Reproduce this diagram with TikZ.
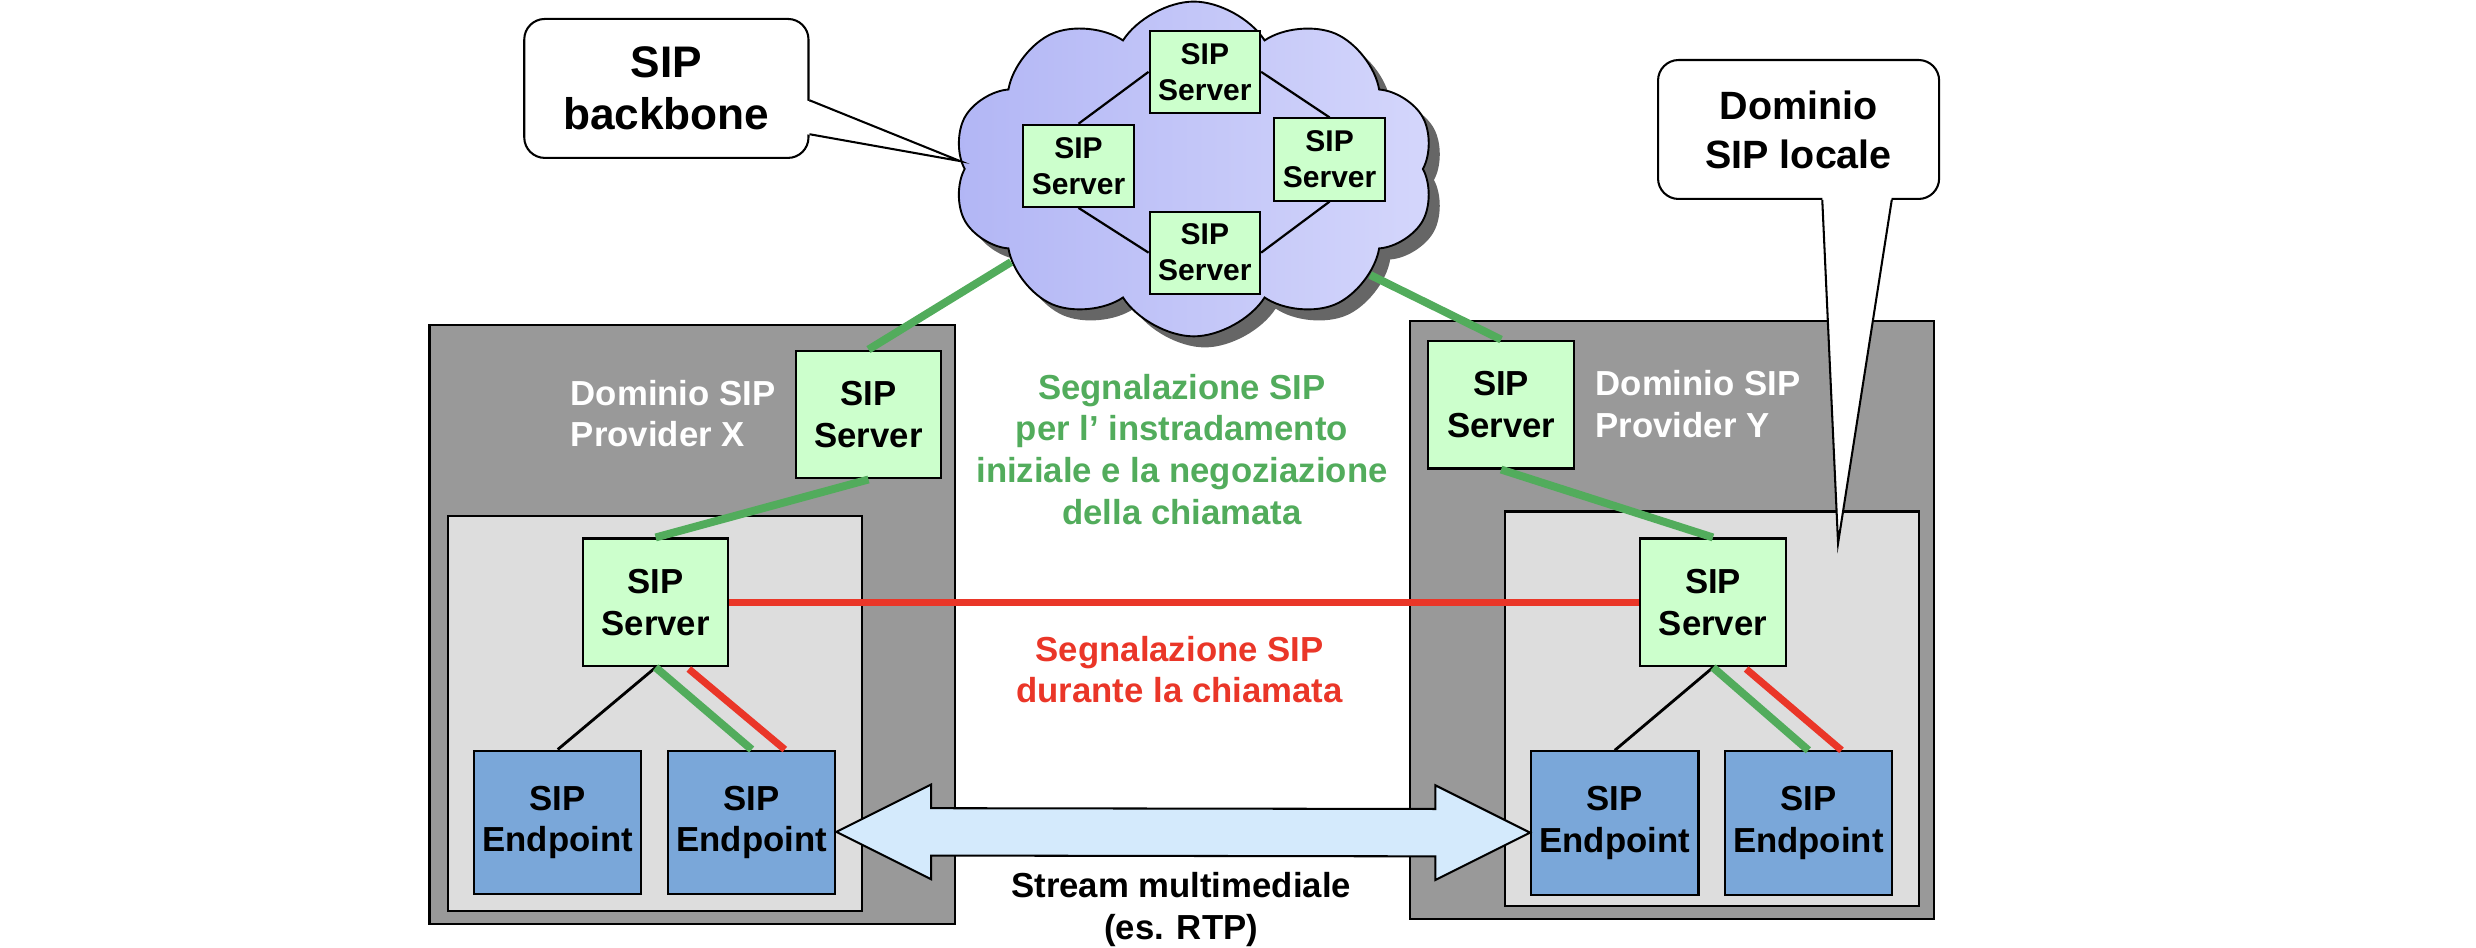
\documentclass[tikz,border=0pt]{standalone}
\usepackage{fontspec}
\setmainfont{Liberation Sans}
\usetikzlibrary{shapes.symbols,shadows,calc}
\definecolor{domgray}{RGB}{153,153,153}
\definecolor{locgray}{RGB}{221,221,221}
\definecolor{srvgreen}{RGB}{204,255,204}
\definecolor{epblue}{RGB}{122,167,217}
\definecolor{siggreen}{RGB}{82,172,92}
\definecolor{sigred}{RGB}{234,54,40}
\definecolor{streamblue}{RGB}{212,234,252}
\definecolor{cloudA}{RGB}{178,182,245}
\definecolor{cloudB}{RGB}{212,214,251}
\begin{document}
\begin{tikzpicture}[
  x=1pt,y=-1pt,
  txt/.style={font=\fontsize{22}{26.4}\selectfont\bfseries,align=center},
  provbox/.style={draw=black,line width=1.3pt,fill=domgray,inner sep=0pt},
  localbox/.style={draw=black,line width=1.3pt,fill=locgray,inner sep=0pt},
  server/.style={txt,draw=black,line width=1.3pt,fill=srvgreen,inner sep=0pt,
    minimum width=92pt,minimum height=81pt},
  cserver/.style={server,font=\fontsize{19}{22.8}\selectfont\bfseries,
    minimum width=70pt,minimum height=52pt},
  endpoint/.style={txt,draw=black,line width=1.3pt,fill=epblue,inner sep=0pt,
    minimum width=106pt,minimum height=91pt},
  bubble/.style={draw=black,line width=1.3pt,fill=white,rounded corners=13pt,
    inner sep=0pt,align=center},
  backbonecloud/.style={shape=cloud,cloud puffs=10,cloud puff arc=115,draw=black,
    line width=1.2pt,left color=cloudA,right color=cloudB,
    drop shadow={shadow xshift=7pt,shadow yshift=-7pt,fill=black,opacity=0.6}},
  link/.style={draw=black,line width=1.8pt},
  sigInit/.style={draw=siggreen,line width=5pt},
  sigCall/.style={draw=sigred,line width=4.5pt},
  stream/.style={draw=black,line width=1.3pt,fill=streamblue}]
  \useasboundingbox (0,0) rectangle (1568,600);

  % domini dei provider
  \node[provbox,minimum width=333pt,minimum height=379pt] (provX) at (438.5,395.5) {};
  \node[localbox,minimum width=262pt,minimum height=250pt] (localX) at (414.6,451.8) {};
  \node[provbox,minimum width=332pt,minimum height=379pt] (provY) at (1059,392.5) {};
  \node[localbox,minimum width=262pt,minimum height=250pt] (localY) at (1084.2,448.9) {};
  \node[txt,text=white,align=left,anchor=west] (labX) at (358,262) {Dominio SIP\\Provider X};
  \node[txt,text=white,align=left,anchor=west] (labY) at (1007,256) {Dominio SIP\\Provider Y};

  % backbone
  \node[backbonecloud,minimum width=305pt,minimum height=212pt] (backbone) at (756,107) {};
  \node[cserver] (cTop) at (763,45.5) {SIP\\Server};
  \node[cserver] (cLeft) at (683,105) {SIP\\Server};
  \node[cserver] (cRight) at (842,101) {SIP\\Server};
  \node[cserver] (cBottom) at (763,160) {SIP\\Server};
  \foreach \a/\b in {cLeft.north/cTop.west,cTop.east/cRight.north,
                     cLeft.south/cBottom.west,cRight.south/cBottom.east}
    \draw[link,line width=1.4pt] (\a) -- (\b);

  % server ed endpoint
  \node[server] (srvX) at (550,262.5) {SIP\\Server};
  \node[server] (srvInX) at (415.2,381.5) {SIP\\Server};
  \node[endpoint] (epX1) at (353.2,520.8) {SIP\\Endpoint};
  \node[endpoint] (epX2) at (476,520.8) {SIP\\Endpoint};
  \node[server] (srvY) at (950.6,256.2) {SIP\\Server};
  \node[server] (srvInY) at (1084.8,381.5) {SIP\\Server};
  \node[endpoint] (epY1) at (1022.6,521.3) {SIP\\Endpoint};
  \node[endpoint] (epY2) at (1145.2,521.3) {SIP\\Endpoint};

  % segnalazione
  \draw[sigInit] (backbone.207) -- (srvX.north);
  \draw[sigInit] (srvX.south) -- (srvInX.north);
  \draw[sigInit] (backbone.329) -- (srvY.north);
  \draw[sigInit] (srvY.south) -- (srvInY.north);
  \draw[sigCall] (srvInX.east) -- (srvInY.west);
  \foreach \d in {X,Y} {
    \draw[link] (srvIn\d.south) -- (ep\d1.north);
    \draw[sigInit] (srvIn\d.south) -- (ep\d2.north);
    \draw[sigCall] ($(srvIn\d.south)+(21,1)$) -- ($(ep\d2.north)+(21,0)$);
  }

  % stream multimediale
  \coordinate (strA) at ($(epX2.east)+(0,6)$);
  \coordinate (strB) at ($(epY1.west)+(0,6)$);
  \draw[stream] (strA) -- ($(strA)+(60,-30)$) -- ($(strA)+(60,-15)$)
    -- ($(strB)+(-60,-15)$) -- ($(strB)+(-60,-30)$) -- (strB)
    -- ($(strB)+(-60,30)$) -- ($(strB)+(-60,15)$)
    -- ($(strA)+(60,15)$) -- ($(strA)+(60,30)$) -- cycle;

  % testi
  \node[txt,text=siggreen] (noteInit) at (748.5,284.5)
    {Segnalazione SIP\\per l’ instradamento\\iniziale e la negoziazione\\della chiamata};
  \node[txt,text=sigred] (noteCall) at (747,424) {Segnalazione SIP\\durante la chiamata};
  \node[txt] (noteStream) at (748,576) {Stream multimediale\\(es. RTP)};

  % fumetti
  \node[bubble,minimum width=180pt,minimum height=88pt,
    font=\fontsize{28}{33}\selectfont\bfseries] (bbone) at (422,56) {SIP\\backbone};
  \coordinate (bboneTip) at (608,102);
  \fill[white] ($(bbone.east)+(-2,7.5)$) -- (bboneTip) -- ($(bbone.east)+(-2,29)$) -- cycle;
  \draw[line width=1.3pt] ($(bbone.east)+(0,7.5)$) -- (bboneTip) -- ($(bbone.east)+(0,29)$);
  \node[bubble,minimum width=178pt,minimum height=88pt,
    font=\fontsize{25}{31}\selectfont\bfseries] (locale) at (1139,82) {Dominio\\SIP locale};
  \coordinate (localeTip) at (1164,344);
  \fill[white] ($(locale.south)+(15,-2)$) -- (localeTip) -- ($(locale.south)+(59,-2)$) -- cycle;
  \draw[line width=1.3pt] ($(locale.south)+(15,0)$) -- (localeTip) -- ($(locale.south)+(59,0)$);
\end{tikzpicture}
\end{document}
